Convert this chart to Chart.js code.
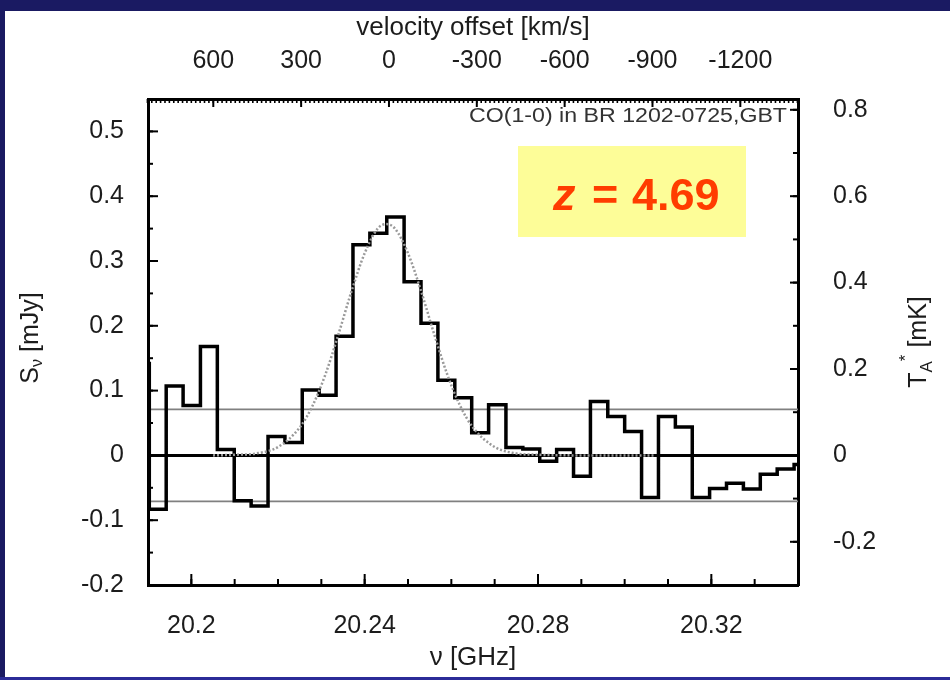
<!DOCTYPE html>
<html>
<head>
<meta charset="utf-8">
<title>CO(1-0) in BR 1202-0725</title>
<script src="https://cdn.jsdelivr.net/npm/chart.js@4.4.0/dist/chart.umd.min.js"></script>
<style>
  html, body { margin: 0; padding: 0; }
  body {
    width: 950px; height: 680px; overflow: hidden; position: relative;
    background: linear-gradient(#1a1a62 0, #1a1a62 677px, #2b2b98 677px);
  }
  #panel { position: absolute; left: 5px; top: 11px; width: 945px; height: 666px; background: #fff; }
  #widmo { display: block; }
</style>
</head>
<body>
<div id="panel"><canvas id="widmo" width="945" height="666"></canvas></div>
<script>
// channel left edges [GHz] (last entry closes the last channel)
const channelEdges = [20.1864, 20.1903, 20.1942, 20.1981, 20.2021, 20.2060, 20.2099, 20.2138,
    20.2177, 20.2216, 20.2256, 20.2295, 20.2334, 20.2373, 20.2412, 20.2451, 20.2491, 20.2530,
    20.2569, 20.2608, 20.2647, 20.2686, 20.2726, 20.2765, 20.2804, 20.2843, 20.2882, 20.2921,
    20.2961, 20.3000, 20.3039, 20.3078, 20.3117, 20.3156, 20.3196, 20.3235, 20.3274, 20.3313,
    20.3352, 20.3391, 20.3431];
// flux density per channel [mJy]
const channelFlux = [0.142, -0.083, 0.107, 0.077, 0.168, 0.009, -0.070, -0.078, 0.029, 0.020,
    0.101, 0.093, 0.184, 0.325, 0.343, 0.368, 0.268, 0.204, 0.116, 0.089,
    0.035, 0.078, 0.012, 0.010, -0.009, 0.009, -0.032, 0.083, 0.060, 0.037,
    -0.065, 0.060, 0.044, -0.065, -0.051, -0.043, -0.052, -0.029, -0.021, -0.014];

// gaussian fit to the line
const fitFreq = [20.205, 20.210, 20.215, 20.220, 20.225, 20.228, 20.231, 20.234, 20.237, 20.240,
    20.243, 20.245, 20.247, 20.250, 20.253, 20.256, 20.259, 20.262, 20.265, 20.270,
    20.275, 20.280, 20.290, 20.300, 20.307];
const fitFlux = [0.000, 0.001, 0.003, 0.013, 0.043, 0.077, 0.126, 0.188, 0.254, 0.312,
    0.350, 0.357, 0.350, 0.312, 0.254, 0.188, 0.126, 0.077, 0.043, 0.013,
    0.003, 0.001, 0.000, 0.000, 0.000];

const noiseLevel = 0.071;

const freqTicks = [20.2, 20.24, 20.28, 20.32];
const fluxTicks = [-0.2, -0.1, 0, 0.1, 0.2, 0.3, 0.4, 0.5];
const tempTicks = [-0.2, 0, 0.2, 0.4, 0.6, 0.8];
const velocityTicks = [600, 300, 0, -300, -600, -900, -1200];

const fontFamily = "'Liberation Sans', Arial, Helvetica, sans-serif";
const ink = '#1c1c1c';

document.addEventListener('DOMContentLoaded', () => {
    const histogram = channelEdges.map((f, i) => ({ x: f, y: channelFlux[Math.min(i, channelFlux.length - 1)] }));
    const fit = fitFreq.map((f, i) => ({ x: f, y: fitFlux[i] }));
    const flat = y => [{ x: 20.19, y: y }, { x: 20.34, y: y }];

    // minor tick positions
    const freqMinor = [];
    for (let i = 2019; i <= 2034; i++) freqMinor.push(i / 100);
    const fluxMinor = [];
    for (let i = -4; i <= 11; i++) fluxMinor.push(i * 0.05);
    const tempMinor = [];
    for (let i = -3; i <= 8; i++) tempMinor.push(i / 10);
    const velocityMinor = [];
    for (let i = -93; i <= 55; i++) velocityMinor.push(i * 15);

    // tick marks pointing into the plot
    const innerTicks = {
        id: 'innerTicks',
        afterDatasetsDraw(chart) {
            const { ctx, chartArea: a, scales } = chart;
            ctx.save();
            ctx.strokeStyle = '#000';
            ctx.lineWidth = 2;
            const mark = (scale, values, len) => {
                values.forEach(v => {
                    const p = scale.getPixelForValue(v);
                    ctx.beginPath();
                    if (scale.position === 'bottom') { ctx.moveTo(p, a.bottom); ctx.lineTo(p, a.bottom - len); }
                    else if (scale.position === 'top') { ctx.moveTo(p, a.top); ctx.lineTo(p, a.top + len); }
                    else if (scale.position === 'left') { ctx.moveTo(a.left, p); ctx.lineTo(a.left + len, p); }
                    else { ctx.moveTo(a.right, p); ctx.lineTo(a.right - len, p); }
                    ctx.stroke();
                });
            };
            mark(scales.x, freqMinor, 6);
            mark(scales.x, freqTicks, 11);
            mark(scales.y, fluxMinor, 5);
            mark(scales.y, fluxTicks, 10);
            mark(scales.y2, tempMinor, 5);
            mark(scales.y2, tempTicks, 8);
            ctx.lineWidth = 1.6;
            mark(scales.x2, velocityMinor, 4);
            ctx.lineWidth = 2;
            mark(scales.x2, velocityTicks, 8);
            ctx.restore();
        }
    };

    // rotated axis titles with sub/superscripts
    function rotatedTitle(ctx, cx, cy, parts) {
        ctx.save();
        ctx.translate(cx, cy);
        ctx.rotate(-Math.PI / 2);
        ctx.fillStyle = ink;
        ctx.textBaseline = 'middle';
        let total = 0;
        parts.forEach(p => {
            ctx.font = p.size + 'px ' + fontFamily;
            p.w = ctx.measureText(p.t).width;
            total += p.w;
        });
        let x = -total / 2;
        parts.forEach(p => {
            ctx.font = p.size + 'px ' + fontFamily;
            ctx.fillText(p.t, x, p.dy || 0);
            x += p.w;
        });
        ctx.restore();
    }

    const labels = {
        id: 'labels',
        beforeDatasetsDraw(chart) {
            const ctx = chart.ctx;
            ctx.save();
            // redshift box
            ctx.fillStyle = '#fdfd98';
            ctx.fillRect(513, 135, 228, 91);
            ctx.fillStyle = '#ff3c00';
            ctx.textBaseline = 'alphabetic';
            ctx.font = 'italic bold 45px ' + fontFamily;
            ctx.fillText('z', 548, 199);
            ctx.font = 'bold 45px ' + fontFamily;
            ctx.fillText('=', 587, 199);
            ctx.fillText('4.69', 627, 199);
            ctx.restore();
        },
        afterDraw(chart) {
            const ctx = chart.ctx;
            ctx.save();
            ctx.fillStyle = '#333';
            ctx.font = '20px ' + fontFamily;
            ctx.textBaseline = 'alphabetic';
            const note = 'CO(1-0) in BR 1202-0725,GBT';
            const w = ctx.measureText(note).width;
            ctx.translate(782, 111);
            ctx.scale(318 / w, 1);
            ctx.textAlign = 'right';
            ctx.fillText(note, 0, 0);
            ctx.restore();

            rotatedTitle(ctx, 26, 327, [
                { t: 'S', size: 25 },
                { t: '\u03bd', size: 16, dy: 7 },
                { t: ' [mJy]', size: 25 }
            ]);
            rotatedTitle(ctx, 914, 331, [
                { t: 'T', size: 25 },
                { t: 'A', size: 17, dy: 8 },
                { t: '*', size: 17, dy: -13 },
                { t: ' [mK]', size: 25 }
            ]);
        }
    };

    const tickFont = { family: fontFamily, size: 25 };
    const titleFont = { family: fontFamily, size: 26 };
    const frame = { display: true, color: '#000', width: 3 };

    new Chart(document.getElementById('widmo'), {
        type: 'line',
        data: {
            datasets: [
                { data: fit, borderColor: '#9a9a9a', borderWidth: 2.5, borderDash: [2, 2],
                  cubicInterpolationMode: 'monotone', pointRadius: 0, clip: 0 },
                { data: histogram, stepped: true, borderColor: '#000', borderWidth: 3.5,
                  borderJoinStyle: 'miter', pointRadius: 0, clip: 0 },
                { data: flat(0), borderColor: '#000', borderWidth: 3, pointRadius: 0, clip: 0 },
                { data: flat(noiseLevel), borderColor: '#808080', borderWidth: 1.8, pointRadius: 0, clip: 0 },
                { data: flat(-noiseLevel), borderColor: '#808080', borderWidth: 1.8, pointRadius: 0, clip: 0 }
            ]
        },
        options: {
            responsive: false,
            animation: false,
            events: [],
            layout: { padding: 0 },
            plugins: { legend: { display: false }, tooltip: { enabled: false } },
            scales: {
                x: {
                    type: 'linear', position: 'bottom', min: 20.19, max: 20.34, bounds: 'data',
                    grid: { display: false }, border: frame,
                    afterBuildTicks: s => { s.ticks = freqTicks.map(v => ({ value: v })); },
                    ticks: { padding: 18, color: ink, font: tickFont, autoSkip: false, maxRotation: 0, callback: v => String(v) },
                    title: { display: true, text: '\u03bd [GHz]', color: ink, font: titleFont, padding: { top: 0, bottom: 4 } },
                    afterFit: s => { s.height = 92; }
                },
                x2: {
                    type: 'linear', position: 'top', min: -1397, max: 823, reverse: true, bounds: 'data',
                    grid: { display: false }, border: frame,
                    afterBuildTicks: s => { s.ticks = velocityTicks.map(v => ({ value: v })); },
                    ticks: { padding: 15, color: ink, font: tickFont, autoSkip: false, maxRotation: 0, callback: v => String(v) },
                    title: { display: true, text: 'velocity offset [km/s]', color: ink, font: titleFont, padding: { top: 1, bottom: 0 } },
                    afterFit: s => { s.height = 88; }
                },
                y: {
                    position: 'left', min: -0.2, max: 0.55, bounds: 'data',
                    grid: { display: false }, border: frame,
                    afterBuildTicks: s => { s.ticks = fluxTicks.map(v => ({ value: v })); },
                    ticks: { padding: 16, color: ink, font: tickFont, autoSkip: false, callback: v => String(v) },
                    afterFit: s => { s.width = 143; }
                },
                y2: {
                    position: 'right', min: -0.3, max: 0.825, bounds: 'data',
                    grid: { display: false }, border: frame,
                    afterBuildTicks: s => { s.ticks = tempTicks.map(v => ({ value: v })); },
                    ticks: { padding: 27, color: ink, font: tickFont, autoSkip: false, callback: v => String(v) },
                    afterFit: s => { s.width = 152; }
                }
            }
        },
        plugins: [innerTicks, labels]
    });
});
</script>
</body>
</html>
